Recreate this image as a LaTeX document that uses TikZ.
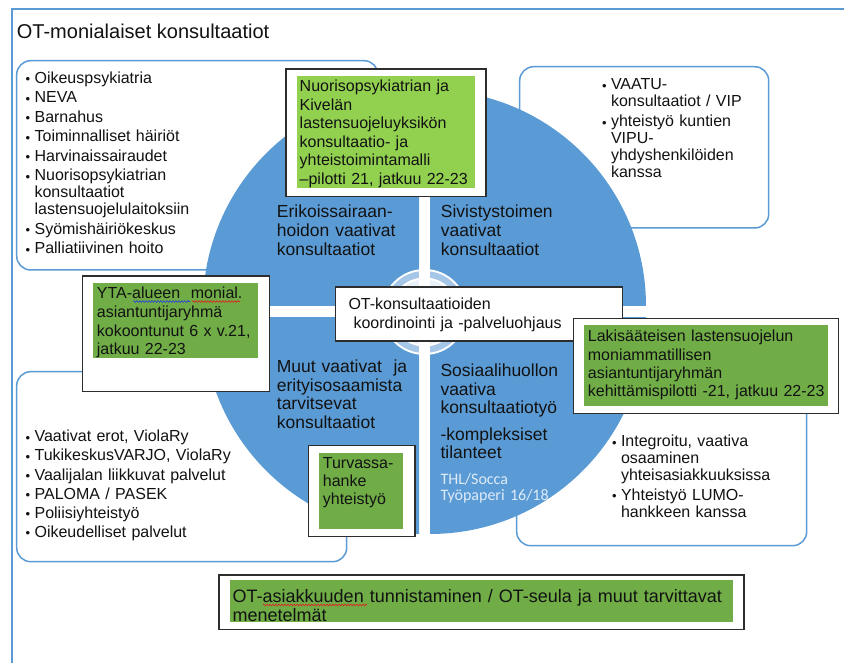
\documentclass[tikz,border=0pt]{standalone}
\usepackage{fontspec}
\setmainfont{Liberation Sans}
\newfontfamily\calibrifont{Carlito}
\usetikzlibrary{decorations.pathmorphing}
\definecolor{qblue}{RGB}{91,155,213}
\definecolor{lgreen}{RGB}{146,208,80}
\definecolor{dgreen}{RGB}{112,173,71}
\definecolor{ringblue}{RGB}{166,198,232}
\definecolor{ringin}{RGB}{233,241,250}
\definecolor{boxline}{RGB}{45,45,45}
\definecolor{txt}{RGB}{18,18,18}
\definecolor{palelbl}{RGB}{222,235,247}
\definecolor{wavered}{RGB}{225,30,30}
\definecolor{waveblue}{RGB}{40,60,225}
\newcommand\bul{\makebox[9pt][l]{{\fontsize{13}{13}\selectfont\raisebox{-0.3pt}{\textbullet}}}}
\newcommand\ind{\hspace*{9pt}}
\begin{document}
\begin{tikzpicture}[x=1pt,y=-1pt,
  every node/.style={inner sep=0pt, text=txt},
  rbox/.style={draw=qblue, line width=1.5pt, fill=white, rounded corners=14pt},
  wbox/.style={draw=boxline, line width=1.2pt, fill=white},
  txtnode/.style={anchor=base west, align=left, text width=#1},
  txtnode/.default=300pt,
  f16/.style={font=\fontsize{16}{#1}\selectfont},
  f18/.style={font=\fontsize{17.5}{#1}\selectfont},
  wave/.style={decorate, decoration={snake, amplitude=0.9pt, segment length=3pt}, line width=0.6pt}
]
\useasboundingbox (0,0) rectangle (844,663);
\fill[white] (0,0) rectangle (844,663);

% outer frame
\draw[qblue, line width=2pt] (12.3,663) -- (12.3,9) -- (844,9);
\node[anchor=base west, font=\fontsize{20}{24}\selectfont] (title) at (16.7,39) {OT-monialaiset konsultaatiot};

% rounded list boxes
\draw[rbox] (16.7,60.7) rectangle (378,270);
\draw[rbox] (519.7,66.7) rectangle (768.7,228);
\draw[rbox] (16.7,371.7) rectangle (346.7,561.7);
\draw[rbox] (516.7,330) rectangle (806.7,545.7);

% quadrants
\begin{scope}\clip (180,70) rectangle (419,306); \fill[qblue] (419,306) circle[radius=216pt]; \end{scope}
\begin{scope}\clip (430,70) rectangle (670,306); \fill[qblue] (430,306) circle[radius=216pt]; \end{scope}
\begin{scope}\clip (180,318) rectangle (419,560); \fill[qblue] (419,318) circle[radius=216pt]; \end{scope}
\begin{scope}\clip (430,318) rectangle (670,560); \fill[qblue] (430,318) circle[radius=216pt]; \end{scope}

% centre ring
\fill[white] (424.5,312) circle[radius=43pt];
\fill[ringblue] (424.5,312) circle[radius=41pt];
\fill[white] (424.5,312) circle[radius=34.5pt];
\fill[ringin] (424.5,312) circle[radius=32.5pt];
\fill[white] (419,266) rectangle (430,358);
\fill[white] (378,306) rectangle (471,318);

% list texts
\node[txtnode, f16=17] (tllist) at (25.4,83.3) {\bul Oikeuspsykiatria\\[2.5pt]\bul NEVA\\[2.5pt]\bul Barnahus\\[2.5pt]\bul Toiminnalliset häiriöt\\[2.5pt]\bul Harvinaissairaudet\\[2.5pt]\bul Nuorisopsykiatrian\\\ind konsultaatiot\\\ind lastensuojelulaitoksiin\\[2.5pt]\bul Syömishäiriökeskus\\[2.5pt]\bul Palliatiivinen hoito};
\node[txtnode, f16=16.8] (trlist) at (601.8,90) {\bul VAATU-\\\ind konsultaatiot / VIP\\[3.3pt]\bul yhteistyö kuntien\\\ind VIPU-\\\ind yhdyshenkilöiden\\\ind kanssa};
\node[txtnode, f16=19.2] (bllist) at (25.4,441.7) {\bul Vaativat erot, ViolaRy\\\bul TukikeskusVARJO, ViolaRy\\\bul Vaalijalan liikkuvat palvelut\\\bul PALOMA / PASEK\\\bul Poliisiyhteistyö\\\bul Oikeudelliset palvelut};
\node[txtnode, f16=16.8] (brlist) at (611.8,446.7) {\bul Integroitu, vaativa\\\ind osaaminen\\\ind yhteisasiakkuuksissa\\[3.2pt]\bul Yhteistyö LUMO-\\\ind hankkeen kanssa};

% quadrant labels
\node[txtnode=150pt, f18=19.2] (qtl) at (276.7,217.3) {Erikoissairaan-\\hoidon vaativat\\konsultaatiot};
\node[txtnode=150pt, f18=19.2] (qtr) at (440.7,217.3) {Sivistystoimen\\vaativat\\konsultaatiot};
\node[txtnode=150pt, f18=18.7] (qbl) at (276.7,372.3) {Muut vaativat\ \ ja\\erityisosaamista\\tarvitsevat\\konsultaatiot};
\node[txtnode=150pt, f18=18.3] (qbr) at (440.3,376.7) {Sosiaalihuollon\\vaativa\\konsultaatiotyö\\[8.4pt]-kompleksiset\\tilanteet};
\node[txtnode=150pt, font=\calibrifont\fontsize{16}{16.7}\selectfont, text=palelbl] (thl) at (440.3,484) {THL/Socca\\Työpaperi 16/18};

% white boxes with green fields
\draw[wbox] (286,69) rectangle (486,196.7);
\fill[lgreen] (296.7,76) rectangle (475,187.7);
\node[txtnode=170pt, f16=18.5] (nuoriso) at (299.5,91.7) {Nuorisopsykiatrian ja\\Kivelän\\lastensuojeluyksikön\\konsultaatio- ja\\yhteistoimintamalli\\–pilotti 21, jatkuu 22-23};

\draw[wbox] (82.7,276) rectangle (269.3,391.7);
\fill[dgreen] (93,283) rectangle (258,357.7);
\node[txtnode=165pt, f16=18.8] (yta) at (96.7,298.5) {YTA-alueen\ \ monial.\\asiantuntijaryhmä\\kokoontunut 6 x v.21,\\jatkuu 22-23};
\draw[wave, waveblue] (133,301.5) -- (190,301.5);
\draw[wave, wavered] (192,301.5) -- (240,301.5);

\draw[wbox] (335.7,287) rectangle (622.7,341);
\node[txtnode=280pt, f16=19] (coord) at (348.3,309.3) {OT-konsultaatioiden\\\hspace*{5pt}koordinointi ja -palveluohjaus};

\draw[wbox] (573.7,318.3) rectangle (838.7,413.3);
\fill[dgreen] (584.3,325) rectangle (828,405.7);
\node[txtnode=245pt, f16=18.3] (laki) at (587.7,341.7) {Lakisääteisen lastensuojelun\\moniammatillisen\\asiantuntijaryhmän\\kehittämispilotti -21, jatkuu 22-23};

\draw[wbox] (308.3,445.7) rectangle (415,536.7);
\fill[dgreen] (319.3,452.7) rectangle (403.3,529.3);
\node[txtnode=80pt, f16=18.3] (turva) at (322.7,468.3) {Turvassa-\\hanke\\yhteistyö};

\draw[wbox] (219,575) rectangle (744,629.3);
\fill[dgreen] (230,580) rectangle (732.7,622.3);
\node[txtnode=500pt, font=\fontsize{18}{19}\selectfont] (otas) at (232.5,602) {OT-asiakkuuden tunnistaminen / OT-seula ja muut tarvittavat\\menetelmät};
\draw[wave, wavered] (263,605) -- (367,605);
\end{tikzpicture}
\end{document}
